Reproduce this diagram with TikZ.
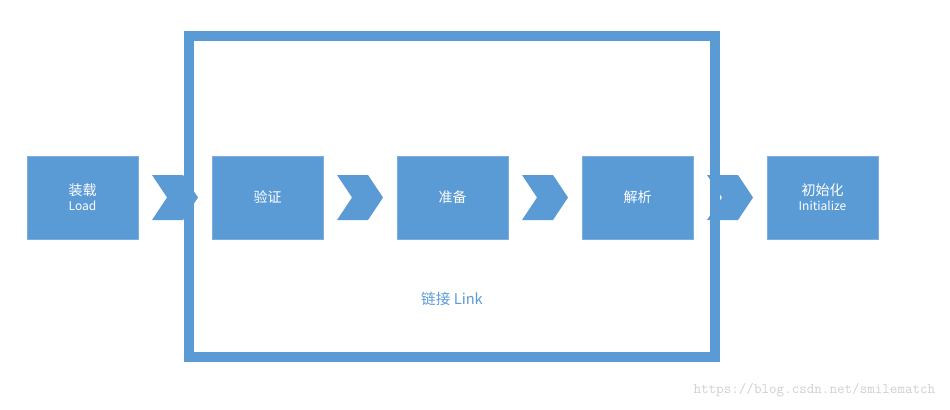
\documentclass[tikz,border=0pt]{standalone}
\usepackage{fontspec}
\setmainfont{Noto Sans CJK SC}
\definecolor{bx}{HTML}{5B9BD5}
\definecolor{wm}{HTML}{D0D0D0}
\begin{document}
\begin{tikzpicture}[x=0.75pt,y=-0.75pt,
  box/.style={fill=bx,draw=bx!80!white,minimum width=83.25pt,minimum height=62.25pt,inner sep=0pt,text=white,align=center,font=\fontsize{10.5}{12}\selectfont},
  chev/.style={fill=bx,draw=none}]
\useasboundingbox (0,0) rectangle (950,410);
\draw[bx,line width=7.5pt] (189,36) rectangle (715,357);
\node[box] (load) at (82.5,197.5) {装载\\[-1pt]{\fontsize{9}{10}\selectfont Load}};
\node[box] (yz) at (267.5,197.5) {验证};
\node[box] (zb) at (452.5,197.5) {准备};
\node[box] (jx) at (637.5,197.5) {解析};
\node[box] (csh) at (822.5,197.5) {初始化\\[-1pt]{\fontsize{9}{10}\selectfont Initialize}};
\foreach \x in {152,337,522,707}{
  \fill[chev] (\x,175) -- (\x+31,175) -- (\x+46,197.5) -- (\x+31,220) -- (\x,220) -- (\x+15,197.5) -- cycle;}
\node[text=bx,font=\fontsize{11}{13}\selectfont] (link) at (452,299) {链接 Link};
\node[text=wm,font=\fontsize{11}{13}\ttfamily,anchor=east] (url) at (940,390) {https://blog.csdn.net/smilematch};
\end{tikzpicture}
\end{document}
